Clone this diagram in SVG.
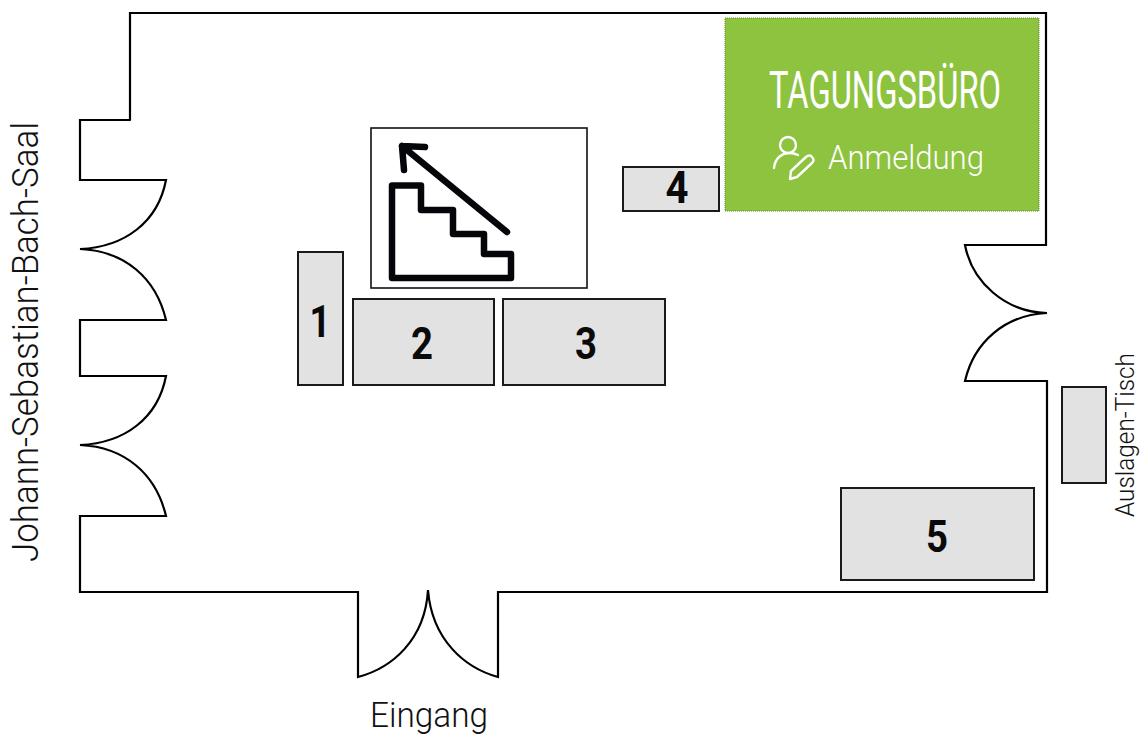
<svg xmlns="http://www.w3.org/2000/svg" width="1141" height="735" viewBox="0 0 1141 735">
<style>
.wall{fill:none;stroke:#000;stroke-width:2.2;stroke-linejoin:miter;stroke-linecap:round}
.table{fill:#e2e2e2;stroke:#1a1a1a;stroke-width:2}
.num{font-family:"Roboto",sans-serif;font-weight:700;font-size:45px;fill:#0a0a0a;text-anchor:middle}
.lbl{font-family:"Roboto",sans-serif;font-weight:350;fill:#111}
.wt{font-family:"Roboto",sans-serif;font-weight:350;fill:#fff}
.ic{fill:none;stroke-linecap:round;stroke-linejoin:round}
</style>
<rect width="1141" height="735" fill="#fff"/>
<g id="connectors">
<path id="walls" class="wall" d="M130,120V13H1046V245H965C972,282 1005,312 1047,313C1005,315 974,342 965,381H1047V592H498V677C465,668 432,640 428,590C425,640 392,668 358,677V592H80V516H166C156,474 125,447 80,445C125,443 158,418 166,376H80V320H166C156,278 125,251 80,249C125,247 158,222 166,180H80V120H130"/>
</g>
<g id="stairs">
<rect x="371" y="128" width="216" height="160" fill="#fff" stroke="#111" stroke-width="1.6"/>
<path class="ic" stroke="#05060a" stroke-width="6.5" d="M392,185.500H421V210H453V234H484V254H511V278H392Z"/>
<path class="ic" stroke="#05060a" stroke-width="6.5" d="M507,232L402,146M425,147L402,146L404,170"/>
</g>
<g id="node-1"><rect class="table" x="298" y="252" width="45" height="133"/><text class="num" x="320" y="337" textLength="21" lengthAdjust="spacingAndGlyphs">1</text></g>
<g id="node-2"><rect class="table" x="353" y="299" width="141" height="86"/><text class="num" x="422" y="359" textLength="22" lengthAdjust="spacingAndGlyphs">2</text></g>
<g id="node-3"><rect class="table" x="503" y="299" width="162" height="86"/><text class="num" x="586" y="359" textLength="22" lengthAdjust="spacingAndGlyphs">3</text></g>
<g id="node-4"><rect class="table" x="623" y="167" width="96" height="44"/><text class="num" x="677" y="203" textLength="23" lengthAdjust="spacingAndGlyphs">4</text></g>
<g id="node-5"><rect class="table" x="841" y="488" width="193" height="92"/><text class="num" x="937" y="552" textLength="22" lengthAdjust="spacingAndGlyphs">5</text></g>
<g id="auslagen"><rect class="table" x="1062" y="387" width="44" height="96"/>
<text class="lbl" font-size="25" transform="translate(1134,517) rotate(-90)" textLength="164" lengthAdjust="spacingAndGlyphs">Auslagen-Tisch</text></g>
<g id="tagungsbuero">
<rect x="725" y="18" width="314" height="193" fill="#8dc33f" stroke="#5d8a30" stroke-width="1" stroke-dasharray="1 1"/>
<text class="wt" x="769" y="108" font-size="51" textLength="232" lengthAdjust="spacingAndGlyphs" style="font-weight:400">TAGUNGSBÜRO</text>
<text class="wt" x="828" y="169" font-size="33" textLength="156" lengthAdjust="spacingAndGlyphs">Anmeldung</text>
<g class="ic" stroke="#fff" stroke-width="2.4">
<circle cx="788" cy="145" r="8"/>
<path d="M774,168C775,158 782,153 790,153C793,153 796,154 798,155"/>
<path d="M790,179L791,171L806,157C808,155 811,155 812,157C814,159 814,161 812,163L797,177Z"/>
</g>
</g>
<g id="labels">
<text class="lbl" font-size="36" transform="translate(38,562) rotate(-90)" textLength="440" lengthAdjust="spacingAndGlyphs">Johann-Sebastian-Bach-Saal</text>
<text class="lbl" x="370" y="727" font-size="35" textLength="118" lengthAdjust="spacingAndGlyphs">Eingang</text>
</g>
</svg>
